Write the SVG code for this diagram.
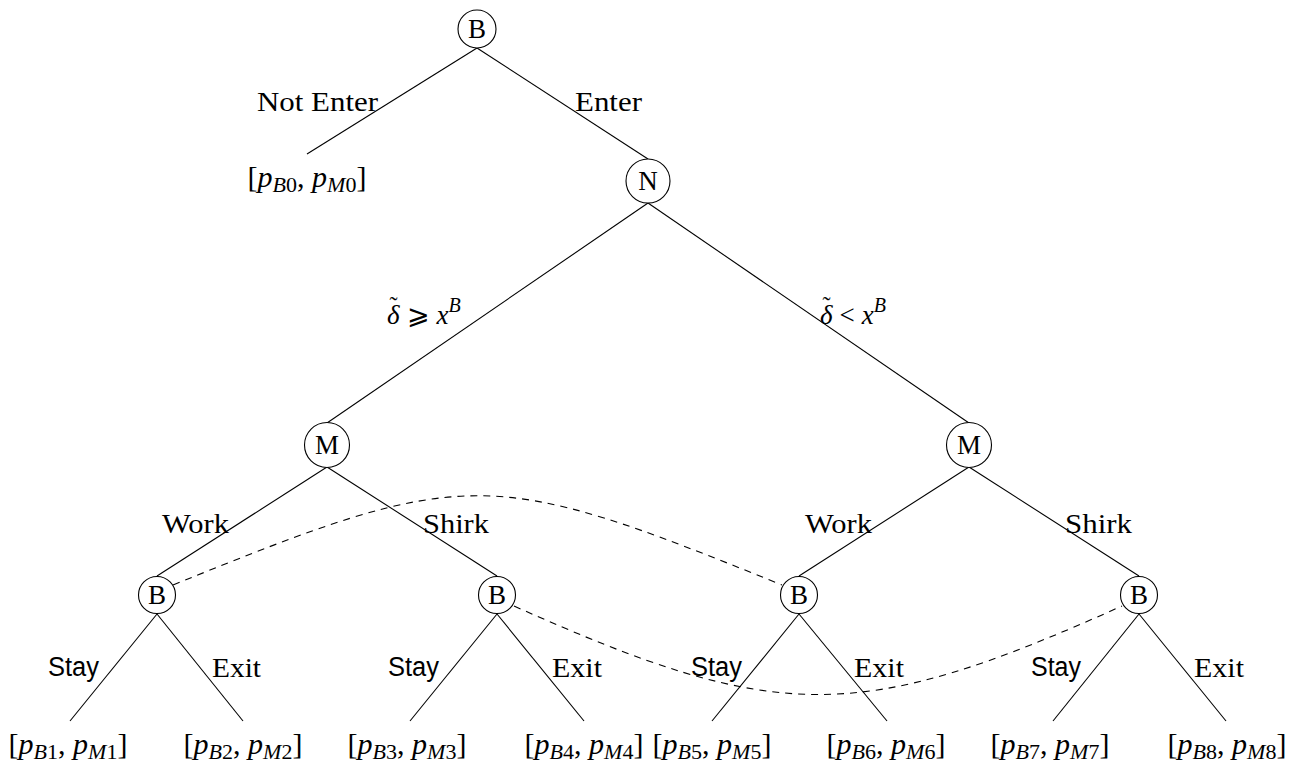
<svg xmlns="http://www.w3.org/2000/svg" width="1306" height="767" viewBox="0 0 1306 767">
<style>
.e{stroke:#000;stroke-width:1.1;fill:none}
.d{stroke:#000;stroke-width:1.1;fill:none;stroke-dasharray:7 6}
.c{fill:#fff;stroke:#000;stroke-width:1.1}
.t{font-family:"Liberation Serif","DejaVu Serif",serif;font-size:27px;fill:#000}
.n{font-family:"Liberation Serif",serif;font-size:27px;text-anchor:middle;fill:#000}
.s{font-family:"Liberation Sans",Arial,sans-serif;font-size:27px;fill:#000}
.m{font-family:"Liberation Serif","DejaVu Serif",serif;font-size:30px;text-anchor:middle;fill:#000}
.i{font-style:italic}
</style>
<rect width="1306" height="767" fill="#fff"/>
<g id="connectors">
<line class="e" x1="477" y1="48" x2="307" y2="154"/>
<line class="e" x1="477" y1="48" x2="648" y2="159"/>
<line class="e" x1="648" y1="203" x2="327" y2="423"/>
<line class="e" x1="648" y1="203" x2="969" y2="423"/>
<line class="e" x1="327" y1="467" x2="157" y2="576"/>
<line class="e" x1="327" y1="467" x2="497" y2="576"/>
<line class="e" x1="969" y1="467" x2="799" y2="576"/>
<line class="e" x1="969" y1="467" x2="1139" y2="576"/>
<line class="e" x1="157" y1="614" x2="70" y2="721"/>
<line class="e" x1="157" y1="614" x2="243" y2="721"/>
<line class="e" x1="497" y1="614" x2="410" y2="721"/>
<line class="e" x1="497" y1="614" x2="584" y2="721"/>
<line class="e" x1="799" y1="614" x2="712" y2="721"/>
<line class="e" x1="799" y1="614" x2="887" y2="721"/>
<line class="e" x1="1139" y1="614" x2="1053" y2="721"/>
<line class="e" x1="1139" y1="614" x2="1226" y2="721"/>
<path class="d" d="M173,585 C467,466 488,466 782,585"/>
<path class="d" d="M514,606 C778,724 859,724 1122,606"/>
</g>
<g id="edge-labels">
<text class="t" x="257" y="111" textLength="121" lengthAdjust="spacingAndGlyphs">Not Enter</text>
<text class="t" x="575" y="111" textLength="67" lengthAdjust="spacingAndGlyphs">Enter</text>
<text class="t" x="387" y="324"><tspan class="i">δ</tspan><tspan font-size="24" dx="-10" dy="-11">˜</tspan><tspan dx="9" dy="11">⩾</tspan><tspan class="i" dx="7">x</tspan><tspan class="i" font-size="20" dy="-12">B</tspan></text>
<text class="t" x="820" y="324"><tspan class="i">δ</tspan><tspan font-size="24" dx="-10" dy="-11">˜</tspan><tspan dx="9" dy="11">&lt;</tspan><tspan class="i" dx="7">x</tspan><tspan class="i" font-size="20" dy="-12">B</tspan></text>
<text class="t" x="162" y="533" textLength="67" lengthAdjust="spacingAndGlyphs">Work</text>
<text class="t" x="423" y="533" textLength="66" lengthAdjust="spacingAndGlyphs">Shirk</text>
<text class="t" x="805" y="533" textLength="67" lengthAdjust="spacingAndGlyphs">Work</text>
<text class="t" x="1065" y="533" textLength="67" lengthAdjust="spacingAndGlyphs">Shirk</text>
<text class="s" x="48" y="676" textLength="51" lengthAdjust="spacingAndGlyphs">Stay</text>
<text class="t" x="212" y="677" textLength="49" lengthAdjust="spacingAndGlyphs">Exit</text>
<text class="s" x="388" y="676" textLength="51" lengthAdjust="spacingAndGlyphs">Stay</text>
<text class="t" x="552" y="677" textLength="50" lengthAdjust="spacingAndGlyphs">Exit</text>
<text class="s" x="691" y="676" textLength="51" lengthAdjust="spacingAndGlyphs">Stay</text>
<text class="t" x="854" y="677" textLength="50" lengthAdjust="spacingAndGlyphs">Exit</text>
<text class="s" x="1031" y="676" textLength="50" lengthAdjust="spacingAndGlyphs">Stay</text>
<text class="t" x="1194" y="677" textLength="50" lengthAdjust="spacingAndGlyphs">Exit</text>
</g>
<g id="node-root">
<circle class="c" cx="477" cy="29" r="19"/>
<text class="n" x="477" y="38">B</text>
</g>
<g id="node-N">
<circle class="c" cx="648" cy="181" r="22"/>
<text class="n" x="648" y="190">N</text>
</g>
<g id="node-M1">
<circle class="c" cx="327" cy="445" r="22.5"/>
<text class="n" x="327" y="454">M</text>
</g>
<g id="node-M2">
<circle class="c" cx="969" cy="445" r="22.5"/>
<text class="n" x="969" y="454">M</text>
</g>
<g id="node-B1">
<circle class="c" cx="157" cy="595" r="18.5"/>
<text class="n" x="157" y="604">B</text>
</g>
<g id="node-B2">
<circle class="c" cx="497" cy="595" r="18.5"/>
<text class="n" x="497" y="604">B</text>
</g>
<g id="node-B3">
<circle class="c" cx="799" cy="595" r="18.5"/>
<text class="n" x="799" y="604">B</text>
</g>
<g id="node-B4">
<circle class="c" cx="1139" cy="595" r="18.5"/>
<text class="n" x="1139" y="604">B</text>
</g>
<g id="leaf-0"><text class="m" x="307" y="187">[<tspan class="i">p</tspan><tspan font-size="22" dy="5"><tspan class="i">B</tspan>0</tspan><tspan dy="-5">, </tspan><tspan class="i">p</tspan><tspan font-size="22" dy="5"><tspan class="i">M</tspan>0</tspan><tspan dy="-5">]</tspan></text></g>
<g id="leaf-1"><text class="m" x="68" y="754">[<tspan class="i">p</tspan><tspan font-size="22" dy="5"><tspan class="i">B</tspan>1</tspan><tspan dy="-5">, </tspan><tspan class="i">p</tspan><tspan font-size="22" dy="5"><tspan class="i">M</tspan>1</tspan><tspan dy="-5">]</tspan></text></g>
<g id="leaf-2"><text class="m" x="243" y="754">[<tspan class="i">p</tspan><tspan font-size="22" dy="5"><tspan class="i">B</tspan>2</tspan><tspan dy="-5">, </tspan><tspan class="i">p</tspan><tspan font-size="22" dy="5"><tspan class="i">M</tspan>2</tspan><tspan dy="-5">]</tspan></text></g>
<g id="leaf-3"><text class="m" x="407" y="754">[<tspan class="i">p</tspan><tspan font-size="22" dy="5"><tspan class="i">B</tspan>3</tspan><tspan dy="-5">, </tspan><tspan class="i">p</tspan><tspan font-size="22" dy="5"><tspan class="i">M</tspan>3</tspan><tspan dy="-5">]</tspan></text></g>
<g id="leaf-4"><text class="m" x="584" y="754">[<tspan class="i">p</tspan><tspan font-size="22" dy="5"><tspan class="i">B</tspan>4</tspan><tspan dy="-5">, </tspan><tspan class="i">p</tspan><tspan font-size="22" dy="5"><tspan class="i">M</tspan>4</tspan><tspan dy="-5">]</tspan></text></g>
<g id="leaf-5"><text class="m" x="712" y="754">[<tspan class="i">p</tspan><tspan font-size="22" dy="5"><tspan class="i">B</tspan>5</tspan><tspan dy="-5">, </tspan><tspan class="i">p</tspan><tspan font-size="22" dy="5"><tspan class="i">M</tspan>5</tspan><tspan dy="-5">]</tspan></text></g>
<g id="leaf-6"><text class="m" x="886" y="754">[<tspan class="i">p</tspan><tspan font-size="22" dy="5"><tspan class="i">B</tspan>6</tspan><tspan dy="-5">, </tspan><tspan class="i">p</tspan><tspan font-size="22" dy="5"><tspan class="i">M</tspan>6</tspan><tspan dy="-5">]</tspan></text></g>
<g id="leaf-7"><text class="m" x="1050" y="754">[<tspan class="i">p</tspan><tspan font-size="22" dy="5"><tspan class="i">B</tspan>7</tspan><tspan dy="-5">, </tspan><tspan class="i">p</tspan><tspan font-size="22" dy="5"><tspan class="i">M</tspan>7</tspan><tspan dy="-5">]</tspan></text></g>
<g id="leaf-8"><text class="m" x="1227" y="754">[<tspan class="i">p</tspan><tspan font-size="22" dy="5"><tspan class="i">B</tspan>8</tspan><tspan dy="-5">, </tspan><tspan class="i">p</tspan><tspan font-size="22" dy="5"><tspan class="i">M</tspan>8</tspan><tspan dy="-5">]</tspan></text></g>
</svg>
